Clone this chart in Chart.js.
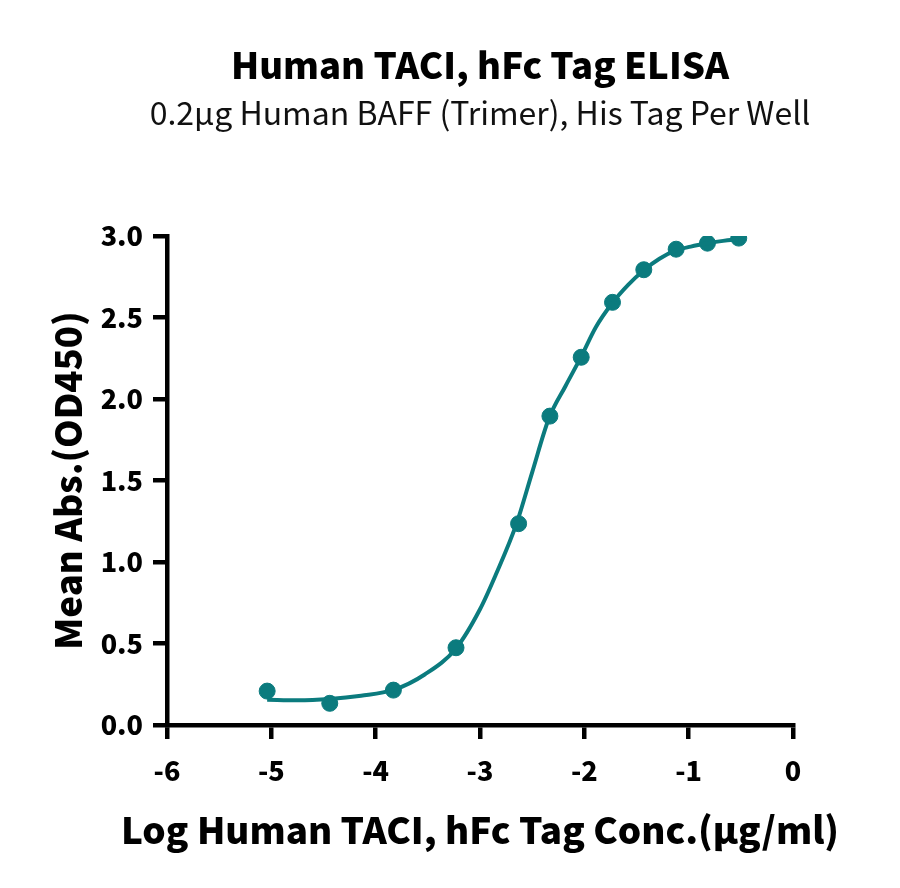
<!DOCTYPE html>
<html lang="en">
<head>
  <meta charset="utf-8" />
  <title>Human TACI, hFc Tag ELISA</title>
  <script src="https://cdn.jsdelivr.net/npm/chart.js@4.4.0/dist/chart.umd.min.js"></script>
  <style>
    body { margin: 0; background: #fff; }
    canvas { display: block; }
  </style>
</head>
<body>
  <canvas id="chart" width="900" height="888"></canvas>
  <script>
    const logConc = [-5.04, -4.44, -3.83, -3.23, -2.63, -2.33, -2.03, -1.73, -1.43, -1.12, -0.82, -0.52];
    const meanAbs = [0.208, 0.133, 0.214, 0.474, 1.235, 1.895, 2.256, 2.593, 2.793, 2.919, 2.956, 2.987];

    // fitted curve
    const curveX = [-5.04, -4.75, -4.44, -4.14, -3.83, -3.53, -3.23, -3.0, -2.85, -2.65, -2.5, -2.34, -2.18, -2.03, -1.89, -1.73, -1.58, -1.43, -1.28, -1.13, -0.98, -0.82, -0.67, -0.52];
    const curveY = [0.155, 0.152, 0.16, 0.18, 0.215, 0.31, 0.47, 0.71, 0.92, 1.235, 1.55, 1.88, 2.08, 2.26, 2.44, 2.59, 2.70, 2.79, 2.86, 2.91, 2.935, 2.955, 2.97, 2.98];

    const xTicks = [-6, -5, -4, -3, -2, -1, 0];
    const yTicks = [0, 0.5, 1.0, 1.5, 2.0, 2.5, 3.0];

    const titleText = 'Human TACI, hFc Tag ELISA';
    const subText = '0.2µg Human BAFF (Trimer), His Tag Per Well';
    const xTitle = 'Log Human TACI, hFc Tag Conc.(µg/ml)';
    const yTitle = 'Mean Abs.(OD450)';

    const teal = '#0b7b7e';
    const fam = '"Noto Sans CJK SC", "Noto Sans", sans-serif';

    const pts = logConc.map((x, i) => ({ x: x, y: meanAbs[i] }));
    const curve = curveX.map((x, i) => ({ x: x, y: curveY[i] }));

    // subtitle and x title are wider than the plot, so chart.js would squeeze them;
    // draw them here without a maxWidth
    const wideText = {
      id: 'wideText',
      afterDraw(chart) {
        const ctx = chart.ctx;
        const a = chart.chartArea;
        const cx = (a.left + a.right) / 2;
        ctx.save();
        ctx.textAlign = 'center';
        ctx.textBaseline = 'middle';
        ctx.fillStyle = '#111';
        ctx.font = 'normal 32px ' + fam;
        ctx.fillText(subText, cx, a.top - 123);
        ctx.fillStyle = '#000';
        ctx.font = '900 36.8px ' + fam;
        ctx.fillText(xTitle, cx, a.bottom + 105);
        ctx.restore();
      }
    };

    new Chart(document.getElementById('chart'), {
      type: 'scatter',
      data: {
        datasets: [
          {
            data: curve,
            showLine: true,
            borderColor: teal,
            borderWidth: 4,
            pointRadius: 0,
            cubicInterpolationMode: 'monotone',
            fill: false
          },
          {
            data: pts,
            backgroundColor: teal,
            borderColor: teal,
            pointRadius: 8,
            pointHoverRadius: 8
          }
        ]
      },
      plugins: [wideText],
      options: {
        responsive: false,
        animation: false,
        layout: { padding: { left: 0, right: 107, top: 0, bottom: 0 } },
        plugins: {
          legend: { display: false },
          tooltip: { enabled: false },
          title: {
            display: true,
            fullSize: false,
            text: titleText,
            color: '#000',
            font: { family: fam, size: 36.5, weight: '900', lineHeight: 1.2 },
            padding: { top: 43.1, bottom: 149.1 }
          }
        },
        scales: {
          x: {
            type: 'linear',
            min: -6,
            max: 0,
            afterBuildTicks: s => { s.ticks = xTicks.map(v => ({ value: v })); },
            afterFit: s => { s.height = 163; },
            ticks: {
              color: '#000',
              padding: 16,
              font: { family: fam, size: 27, weight: '900', lineHeight: 1.2 },
              callback: v => String(v)
            },
            grid: { drawOnChartArea: false, drawTicks: true, tickLength: 14, color: '#000', lineWidth: 4.5 },
            border: { display: true, color: '#000', width: 4.5 },
            title: { display: false }
          },
          y: {
            type: 'linear',
            min: 0,
            max: 3,
            afterBuildTicks: s => { s.ticks = yTicks.map(v => ({ value: v })); },
            afterFit: s => { s.width = 167; },
            ticks: {
              color: '#000',
              padding: 10,
              font: { family: fam, size: 27, weight: '900', lineHeight: 1.2 },
              callback: v => Number(v).toFixed(1)
            },
            grid: { drawOnChartArea: false, drawTicks: true, tickLength: 14, color: '#000', lineWidth: 4.5 },
            border: { display: true, color: '#000', width: 4.5 },
            title: {
              display: true,
              text: yTitle,
              color: '#000',
              font: { family: fam, size: 36.5, weight: '900', lineHeight: 1.2 },
              padding: { top: 46.1, bottom: 0 }
            }
          }
        }
      }
    });
  </script>
</body>
</html>
